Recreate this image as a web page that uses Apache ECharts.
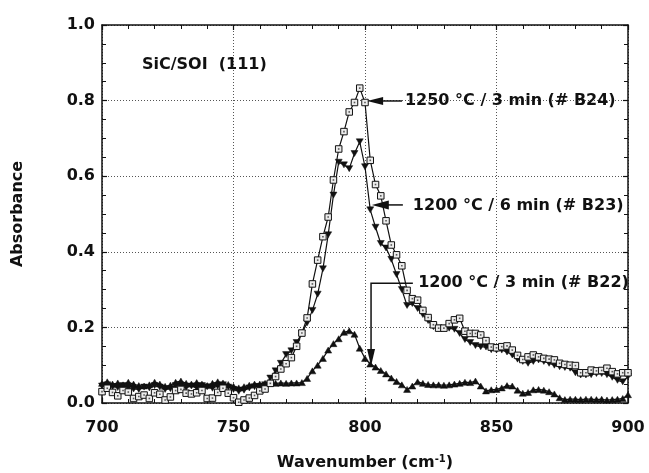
<!DOCTYPE html>
<html>
<head>
<meta charset="utf-8">
<script src="https://cdn.jsdelivr.net/npm/echarts@6/dist/echarts.min.js"></script>
<style>
  html, body { margin: 0; padding: 0; background: #ffffff; }
  #chart { width: 649px; height: 473px; }
</style>
</head>
<body>
<div id="chart"></div>
<script>
// FTIR absorbance spectra of SiC/SOI (111) samples, 700-900 cm^-1
const wavenumber = [
  700, 702, 704, 706, 708, 710, 712, 714, 716, 718,
  720, 722, 724, 726, 728, 730, 732, 734, 736, 738,
  740, 742, 744, 746, 748, 750, 752, 754, 756, 758,
  760, 762, 764, 766, 768, 770, 772, 774, 776, 778,
  780, 782, 784, 786, 788, 790, 792, 794, 796, 798,
  800, 802, 804, 806, 808, 810, 812, 814, 816, 818,
  820, 822, 824, 826, 828, 830, 832, 834, 836, 838,
  840, 842, 844, 846, 848, 850, 852, 854, 856, 858,
  860, 862, 864, 866, 868, 870, 872, 874, 876, 878,
  880, 882, 884, 886, 888, 890, 892, 894, 896, 898,
  900
];

// 1250 °C / 3 min (# B24)
const absB24 = [
  0.030, 0.039, 0.028, 0.019, 0.033, 0.029, 0.012, 0.017, 0.021, 0.012,
  0.027, 0.023, 0.008, 0.016, 0.033, 0.036, 0.026, 0.024, 0.027, 0.033,
  0.012, 0.013, 0.028, 0.039, 0.026, 0.014, 0.002, 0.008, 0.013, 0.020,
  0.032, 0.037, 0.052, 0.070, 0.090, 0.104, 0.120, 0.150, 0.185, 0.225,
  0.315, 0.378, 0.440, 0.492, 0.590, 0.672, 0.718, 0.770, 0.795, 0.833,
  0.795, 0.642, 0.578, 0.548, 0.482, 0.418, 0.392, 0.363, 0.298, 0.276,
  0.272, 0.245, 0.226, 0.207, 0.198, 0.198, 0.210, 0.220, 0.224, 0.190,
  0.184, 0.184, 0.180, 0.165, 0.148, 0.146, 0.149, 0.151, 0.140, 0.126,
  0.115, 0.122, 0.127, 0.122, 0.118, 0.116, 0.114, 0.105, 0.102, 0.100,
  0.099, 0.080, 0.080, 0.087, 0.085, 0.086, 0.092, 0.083, 0.077, 0.080,
  0.080
];

// 1200 °C / 6 min (# B23)
const absB23 = [
  0.045, 0.048, 0.043, 0.041, 0.046, 0.040, 0.037, 0.036, 0.042, 0.040,
  0.046, 0.042, 0.036, 0.038, 0.046, 0.044, 0.041, 0.045, 0.040, 0.046,
  0.043, 0.039, 0.045, 0.048, 0.042, 0.036, 0.031, 0.034, 0.040, 0.043,
  0.044, 0.048, 0.066, 0.085, 0.105, 0.128, 0.138, 0.160, 0.185, 0.212,
  0.245, 0.288, 0.355, 0.445, 0.550, 0.637, 0.630, 0.620, 0.660, 0.691,
  0.625, 0.511, 0.465, 0.422, 0.410, 0.380, 0.340, 0.300, 0.258, 0.263,
  0.250, 0.234, 0.218, 0.202, 0.198, 0.198, 0.198, 0.195, 0.184, 0.168,
  0.160, 0.152, 0.149, 0.148, 0.141, 0.140, 0.140, 0.135, 0.127, 0.116,
  0.110, 0.105, 0.110, 0.114, 0.110, 0.105, 0.100, 0.096, 0.094, 0.092,
  0.080, 0.074, 0.074, 0.075, 0.078, 0.078, 0.075, 0.068, 0.060, 0.056,
  0.070
];

// 1200 °C / 3 min (# B22)
const absB22 = [
  0.052, 0.056, 0.050, 0.053, 0.048, 0.055, 0.050, 0.046, 0.045, 0.048,
  0.055, 0.050, 0.044, 0.047, 0.055, 0.058, 0.052, 0.050, 0.054, 0.050,
  0.046, 0.052, 0.056, 0.053, 0.049, 0.044, 0.040, 0.043, 0.047, 0.050,
  0.050, 0.052, 0.053, 0.052, 0.053, 0.052, 0.053, 0.053, 0.054, 0.065,
  0.085, 0.100, 0.118, 0.140, 0.157, 0.170, 0.187, 0.191, 0.182, 0.145,
  0.118, 0.103, 0.095, 0.086, 0.077, 0.066, 0.057, 0.048, 0.036, 0.045,
  0.056, 0.052, 0.049, 0.048, 0.048, 0.047, 0.048, 0.050, 0.052, 0.055,
  0.054, 0.058, 0.045, 0.032, 0.035, 0.036, 0.040, 0.046, 0.045, 0.034,
  0.026, 0.028, 0.035, 0.036, 0.034, 0.030, 0.024, 0.014, 0.009, 0.010,
  0.010, 0.009, 0.010, 0.010, 0.009, 0.010, 0.008, 0.009, 0.010, 0.012,
  0.022
];

const seriesNames = ['1250 °C / 3 min (# B24)', '1200 °C / 6 min (# B23)', '1200 °C / 3 min (# B22)'];
const sampleTitle = 'SiC/SOI  (111)';
const xRange = [700, 900];
const xStep = 50;
const yRange = [0, 1.0];
const yStep = 0.2;

const FONT = '"DejaVu Sans", sans-serif';
const INK = '#111111';

const pairs = (ys) => wavenumber.map((x, i) => [x, ys[i]]);

const chart = echarts.init(document.getElementById('chart'), null, { renderer: 'canvas' });

const tickStyle = { show: true, inside: true, length: 5, lineStyle: { color: INK, width: 1.2 } };
const minorStyle = { show: true, length: 4, lineStyle: { color: INK, width: 1 } };
const axisLineStyle = { show: true, onZero: false, lineStyle: { color: INK, width: 1.5 } };
const gridLine = { show: true, lineStyle: { color: '#555555', width: 1, type: [1, 2] } };
const labelFont = { color: INK, fontFamily: FONT, fontWeight: 'bold', fontSize: 16 };

const option = {
  animation: false,
  backgroundColor: '#ffffff',
  grid: { left: 102, right: 21, top: 25, bottom: 70, containLabel: false, outerBoundsMode: 'none' },
  xAxis: [
    {
      type: 'value', min: xRange[0], max: xRange[1], interval: xStep,
      axisLine: axisLineStyle, axisTick: tickStyle,
      minorTick: Object.assign({ splitNumber: 5 }, minorStyle),
      splitLine: gridLine, minorSplitLine: { show: false },
      axisLabel: Object.assign({ margin: 17 }, labelFont),
      name: '{a|Wavenumber (cm}{s|-1}{a|)}',
      nameLocation: 'middle', nameGap: 51,
      nameTextStyle: {
        rich: {
          a: { fontFamily: FONT, fontWeight: 'bold', fontSize: 16, color: INK },
          s: { fontFamily: FONT, fontWeight: 'bold', fontSize: 10, color: INK, verticalAlign: 'top', padding: [0, 0, 8, 0] }
        }
      }
    },
    {
      type: 'value', position: 'top', min: xRange[0], max: xRange[1], interval: xStep,
      axisLine: axisLineStyle, axisTick: tickStyle,
      minorTick: Object.assign({ splitNumber: 5 }, minorStyle),
      splitLine: { show: false }, axisLabel: { show: false }
    }
  ],
  yAxis: [
    {
      type: 'value', min: yRange[0], max: yRange[1], interval: yStep,
      axisLine: axisLineStyle, axisTick: tickStyle,
      minorTick: Object.assign({ splitNumber: 4 }, minorStyle),
      splitLine: gridLine,
      axisLabel: Object.assign({ margin: 7, formatter: (v) => v.toFixed(1) }, labelFont),
      name: 'Absorbance', nameLocation: 'middle', nameGap: 76, nameRotate: 90,
      nameTextStyle: { fontFamily: FONT, fontWeight: 'bold', fontSize: 16, color: INK }
    },
    {
      type: 'value', position: 'right', min: yRange[0], max: yRange[1], interval: yStep,
      axisLine: axisLineStyle, axisTick: tickStyle,
      minorTick: Object.assign({ splitNumber: 4 }, minorStyle),
      splitLine: { show: false }, axisLabel: { show: false }
    }
  ],
  series: [
    {
      name: seriesNames[2], type: 'line', data: pairs(absB22),
      showAllSymbol: true, symbol: 'triangle', symbolSize: [7, 6],
      lineStyle: { color: INK, width: 1.2 },
      itemStyle: { color: INK, borderColor: INK, borderWidth: 0.5 },
      z: 2
    },
    {
      name: seriesNames[1], type: 'line', data: pairs(absB23),
      showAllSymbol: true, symbol: 'triangle', symbolRotate: 180, symbolSize: [7, 6],
      lineStyle: { color: INK, width: 1.2 },
      itemStyle: { color: INK, borderColor: INK, borderWidth: 0.5 },
      z: 3
    },
    {
      name: seriesNames[0], type: 'line', data: pairs(absB24),
      showAllSymbol: true, symbol: 'rect', symbolSize: 6.5,
      lineStyle: { color: INK, width: 1.2 },
      itemStyle: { color: '#ececec', borderColor: INK, borderWidth: 1 },
      z: 4
    },
    {
      // centre dots of the open squares
      name: seriesNames[0] + ' dots', type: 'scatter', data: pairs(absB24),
      symbol: 'rect', symbolSize: 1.6, silent: true,
      itemStyle: { color: '#333333' },
      z: 5
    }
  ]
};

chart.setOption(option);

// Annotation texts and leader arrows, anchored in data coordinates
const px = (p) => chart.convertToPixel({ gridIndex: 0 }, p);

function arrowHead(tip, dir, len, half) {
  // dir: unit vector pointing from tail toward tip
  const bx = tip[0] - dir[0] * len, by = tip[1] - dir[1] * len;
  const nx = -dir[1], ny = dir[0];
  return {
    type: 'polygon', z: 20,
    shape: { points: [tip, [bx + nx * half, by + ny * half], [bx - nx * half, by - ny * half]] },
    style: { fill: INK }
  };
}

function textAt(p, str) {
  return {
    type: 'text', z: 20, x: p[0], y: p[1],
    style: { text: str, fill: INK, font: 'bold 16px ' + FONT, textAlign: 'left', textVerticalAlign: 'middle' }
  };
}

const graphics = [];

// B24
{
  const tip = px([800.8, 0.799]);
  const tail = px([814.1, 0.799]);
  graphics.push({ type: 'line', z: 20, shape: { x1: tail[0], y1: tail[1], x2: tip[0] + 10, y2: tip[1] }, style: { stroke: INK, lineWidth: 1.5 } });
  graphics.push(arrowHead(tip, [-1, 0], 16, 4));
  graphics.push(textAt(px([815.2, 0.799]), seriesNames[0]));
}
// B23
{
  const tip = px([802.6, 0.524]);
  const tail = px([814.4, 0.524]);
  graphics.push({ type: 'line', z: 20, shape: { x1: tail[0], y1: tail[1], x2: tip[0] + 10, y2: tip[1] }, style: { stroke: INK, lineWidth: 1.5 } });
  graphics.push(arrowHead(tip, [-1, 0], 17, 4.5));
  graphics.push(textAt(px([818.2, 0.521]), seriesNames[1]));
}
// B22
{
  const start = px([818.2, 0.317]);
  const corner = px([802.3, 0.317]);
  const tip = px([802.3, 0.098]);
  graphics.push({ type: 'polyline', z: 20, shape: { points: [start, corner, [tip[0], tip[1] - 10]] }, style: { stroke: INK, lineWidth: 1.5, fill: null } });
  graphics.push(arrowHead(tip, [0, 1], 17, 4));
  graphics.push(textAt(px([820.2, 0.317]), seriesNames[2]));
}
// sample title
graphics.push(textAt(px([715.2, 0.894]), sampleTitle));

chart.setOption({ graphic: graphics });
</script>
</body>
</html>
